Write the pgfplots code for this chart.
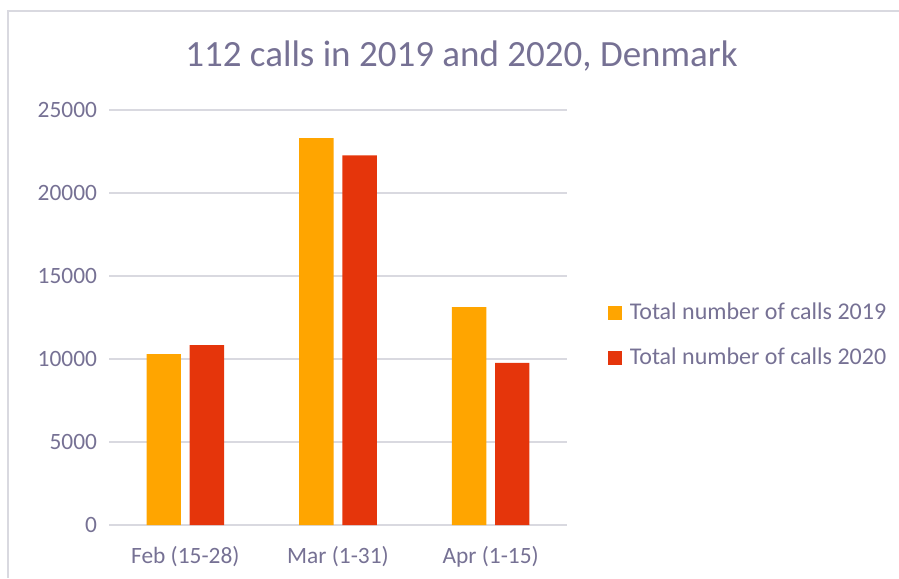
\documentclass[border=0pt]{standalone}
\usepackage{pgfplots}
\pgfplotsset{compat=1.18}
\usepackage{fontspec}
\setmainfont{Carlito}
\definecolor{txt}{RGB}{118,113,148}
\definecolor{c19}{RGB}{255,165,0}
\definecolor{c20}{RGB}{229,53,11}
\definecolor{gridc}{RGB}{217,217,224}
\definecolor{framec}{RGB}{217,217,224}
\begin{document}
\begin{tikzpicture}
\path[use as bounding box] (0,0) rectangle (449.5pt,289pt);
\draw[framec, line width=0.7pt] (4pt,0) -- (4pt,283.4pt) -- (449.5pt,283.4pt);
\node[txt, font=\fontsize{18.5}{22}\selectfont, anchor=base, inner sep=0pt] at (230.75pt,255.6pt) {112 calls in 2019 and 2020, Denmark};
\begin{axis}[
  at={(54.5pt,26.5pt)}, anchor=south west,
  width=229pt, height=207.5pt, scale only axis,
  xmin=-0.5, xmax=2.5, ymin=0, ymax=25000,
  ytick={0,5000,10000,15000,20000,25000},
  xtick={0,1,2}, xticklabels={Feb (15-28), Mar (1-31), Apr (1-15)},
  ymajorgrids, grid style={gridc, line width=0.9pt},
  axis line style={draw=none},
  major tick length=0pt,
  ybar=4.4pt, bar width=17.2pt,
  scaled y ticks=false,
  /pgf/number format/1000 sep={},
  /pgf/number format/assume math mode=true,
  tick label style={txt, font=\fontsize{11.7}{14}\selectfont, inner sep=0pt},
  yticklabel style={xshift=-5.8pt},
  xticklabel style={anchor=base, yshift=-19.3pt},
  legend image code/.code={\fill[#1] (0pt,-3.5pt) rectangle (7pt,3.5pt);},
  legend style={draw=none, fill=none, inner sep=0pt, at={(1.0895,0.456)}, anchor=west,
    font=\fontsize{12}{14}\selectfont, text=txt, row sep=11.5pt, column sep=3.7pt,
    nodes={inner sep=0pt, text height=8.5pt, text depth=2.5pt}},
  legend cell align=left,
]
\addplot[fill=c19, draw=none] coordinates {(0,10300) (1,23310) (2,13130)};
\addplot[fill=c20, draw=none] coordinates {(0,10840) (1,22270) (2,9770)};
\legend{Total number of calls 2019, Total number of calls 2020}
\end{axis}
\end{tikzpicture}
\end{document}
